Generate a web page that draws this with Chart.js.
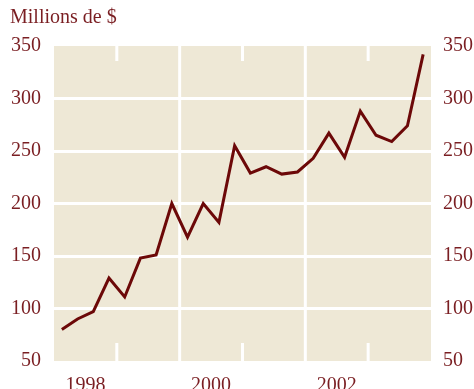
<!DOCTYPE html>
<html lang="fr">
<head>
<meta charset="utf-8">
<title>Millions de $</title>
<script src="https://cdn.jsdelivr.net/npm/chart.js"></script>
<style>
  html, body { margin: 0; padding: 0; background: #ffffff; }
  #graphique { display: block; }
</style>
</head>
<body>
<canvas id="graphique" width="474" height="389"></canvas>
<script>
// Trimestres (année, trimestre) et valeurs en millions de dollars
const annees = [1998, 1999, 2000, 2001, 2002, 2003];
const trimestres = [1, 2, 3, 4];
const valeurs = [
  80, 90, 97, 129,      // 1998
  111, 148, 151, 200,   // 1999
  168, 200, 182, 255,   // 2000
  229, 235, 228, 230,   // 2001
  243, 267, 244, 288,   // 2002
  265, 259, 274, 342    // 2003
];
const ticksY = [50, 100, 150, 200, 250, 300, 350];
const etiquettesAnnees = ['1998', '2000', '2002'];

const couleurTexte = '#7a1e22';
const couleurLigne = '#6c0808';
const fondZone = '#eee8d6';
const police = { family: '"Liberation Serif", "Times New Roman", serif', size: 20, weight: 'normal' };

// Point au milieu de chaque trimestre
const points = [];
annees.forEach((annee, i) => {
  trimestres.forEach((t, j) => {
    points.push({ x: annee + (t - 0.5) / 4, y: valeurs[i * 4 + j] });
  });
});

// Fond beige de la zone du graphique
const fondPlugin = {
  id: 'fond',
  beforeDraw(chart) {
    const { ctx, chartArea: a } = chart;
    ctx.save();
    ctx.fillStyle = fondZone;
    ctx.fillRect(a.left, a.top, a.right - a.left, a.bottom - a.top);
    ctx.restore();
  }
};

// Lignes verticales blanches : pleines aux années paires, courtes aux impaires
const separateursPlugin = {
  id: 'separateurs',
  beforeDatasetsDraw(chart) {
    const { ctx, chartArea: a, scales } = chart;
    ctx.save();
    ctx.strokeStyle = '#ffffff';
    ctx.lineWidth = 3;
    annees.slice(1).forEach(annee => {
      const x = scales.x.getPixelForValue(annee);
      ctx.beginPath();
      if (annee % 2 === 0) {
        ctx.moveTo(x, a.top);
        ctx.lineTo(x, a.bottom);
      } else {
        ctx.moveTo(x, a.top);
        ctx.lineTo(x, a.top + 15);
        ctx.moveTo(x, a.bottom - 18);
        ctx.lineTo(x, a.bottom);
      }
      ctx.stroke();
    });
    ctx.restore();
  }
};

const axeY = (position, largeur, grille) => ({
  type: 'linear',
  position: position,
  min: ticksY[0],
  max: ticksY[ticksY.length - 1],
  afterBuildTicks: axis => { axis.ticks = ticksY.map(v => ({ value: v })); },
  afterFit: axis => { axis.width = largeur; },
  border: { display: false },
  grid: {
    display: grille,
    drawTicks: false,
    lineWidth: 3,
    color: c => (c.tick && (c.tick.value === 50 || c.tick.value === 350)) ? 'rgba(0,0,0,0)' : '#ffffff'
  },
  ticks: { color: couleurTexte, font: police, padding: position === 'left' ? 13 : 12 }
});

new Chart(document.getElementById('graphique'), {
  type: 'line',
  data: {
    datasets: [{
      data: points,
      borderColor: couleurLigne,
      borderWidth: 3,
      pointRadius: 0,
      tension: 0,
      fill: false
    }]
  },
  options: {
    responsive: false,
    animation: false,
    layout: { padding: { left: 10, right: 0, top: 0, bottom: 0 } },
    plugins: {
      legend: { display: false },
      tooltip: { enabled: false },
      title: {
        display: true,
        text: 'Millions de $',
        align: 'start',
        color: couleurTexte,
        font: police,
        padding: { top: 6, bottom: 16 }
      }
    },
    scales: {
      x: {
        type: 'linear',
        min: annees[0],
        max: annees[annees.length - 1] + 1,
        afterBuildTicks: axis => {
          axis.ticks = etiquettesAnnees.map(a => ({ value: Number(a) + 0.5 }));
        },
        afterFit: axis => { axis.height = 28; },
        border: { display: false },
        grid: { display: false },
        ticks: {
          color: couleurTexte,
          font: police,
          padding: 5,
          maxRotation: 0,
          callback: v => String(Math.floor(v))
        }
      },
      y: axeY('left', 44, true),
      y2: axeY('right', 43, false)
    }
  },
  plugins: [fondPlugin, separateursPlugin]
});
</script>
</body>
</html>
